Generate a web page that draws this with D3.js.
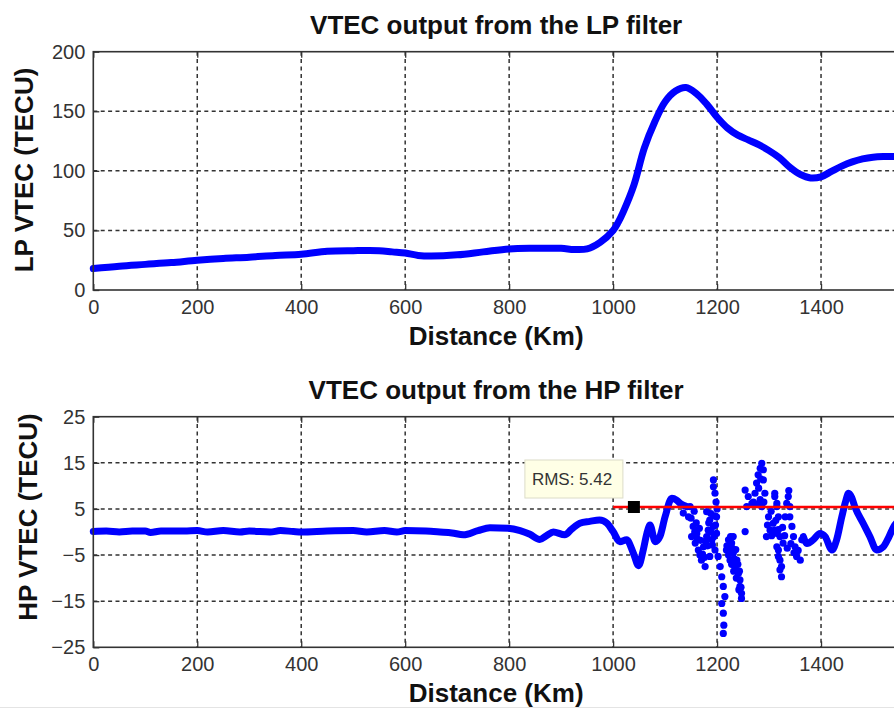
<!DOCTYPE html>
<html>
<head>
<meta charset="utf-8">
<script src="https://cdn.jsdelivr.net/npm/d3@7"></script>
<style>
  html, body { margin: 0; padding: 0; background: #fff; overflow: hidden; }
  svg { display: block; }
  text { font-family: "Liberation Sans", Arial, Helvetica, sans-serif; }
</style>
</head>
<body>
<svg id="chart" width="894" height="709"></svg>
<script>
// ---- Data ---------------------------------------------------------------
const xTicks = [0, 200, 400, 600, 800, 1000, 1200, 1400];
const lpYTicks = [0, 50, 100, 150, 200];
const hpYTicks = [-25, -15, -5, 5, 15, 25];

// Low-pass filtered VTEC along the profile (TECU)
const lpDistance = [0, 50, 100, 150, 200, 250, 300, 350, 400, 450, 500, 550, 575, 600, 625, 650, 700, 750, 800, 850,
  900, 925, 950, 975, 1000, 1010, 1020, 1040, 1060, 1080, 1100, 1120, 1140, 1160, 1180, 1200, 1220, 1240, 1260, 1280,
  1300, 1320, 1340, 1360, 1380, 1400, 1420, 1440, 1460, 1480, 1500, 1520, 1550];
const lpVtec = [18, 20, 21.5, 23, 25, 26.5, 27.5, 29, 30, 32.5, 33, 33, 32, 31, 29, 28.5, 29.5, 32, 34.5, 35,
  35, 34, 34.5, 40, 50, 57, 66, 88, 119, 141, 158, 167, 170, 165, 156, 145, 136, 130, 126, 122,
  117, 111, 103, 97, 94, 95, 99.5, 104, 107.5, 110, 111.5, 112, 112];

// High-pass filtered VTEC: continuous leading stretch
const hpLeadDistance = [0, 25, 50, 75, 100, 110, 130, 175, 200, 220, 250, 282, 300, 340, 360, 385, 400, 450, 500, 526,
  560, 584, 600, 640, 667, 690, 712, 740, 763, 798, 821, 840, 859, 872, 885, 907, 920, 936, 955, 974,
  988, 1000, 1013, 1026, 1039, 1049, 1058, 1065, 1071, 1081, 1090, 1100, 1113, 1122, 1129, 1135, 1142];
const hpLeadVtec = [0.1, 0.2, 0.0, 0.2, 0.2, -0.1, 0.2, 0.2, 0.3, 0.0, 0.3, 0.0, 0.2, 0.0, 0.3, 0.1, 0.0, 0.2, 0.3, 0.0,
  0.3, 0.0, 0.3, 0.2, 0.0, -0.2, -0.6, 0.3, 0.9, 0.8, 0.3, -0.5, -1.6, -0.8, 0.0, -0.6, 0.6, 1.9, 2.3, 2.6,
  1.9, 0.1, -2.1, -1.7, -4.6, -7.3, -3.9, -0.3, 1.5, -2.1, -1.0, 3.3, 7.3, 6.9, 6.2, 5.8, 5.5];

// High-pass filtered VTEC: scattered samples in the disturbed zone
const hpScatterDistance = [1135, 1145, 1148, 1154, 1151, 1158, 1164, 1170, 1177, 1161, 1174,
  1180, 1186, 1193, 1183, 1190, 1196, 1186, 1180, 1199, 1199, 1198, 1200, 1197,
  1150, 1156, 1160, 1166, 1168, 1172, 1176, 1182, 1184, 1188, 1191, 1194, 1195, 1188, 1178, 1167, 1162, 1157,
  1193, 1193, 1196,
  1202, 1206, 1209, 1212, 1215, 1209, 1212, 1213, 1212,
  1222, 1228, 1225, 1231, 1238, 1235, 1241, 1244, 1244, 1247, 1247, 1225, 1218, 1231,
  1219, 1222, 1226, 1229, 1233, 1236, 1240, 1243, 1246, 1228, 1232, 1237, 1242,
  1254,
  1254, 1260, 1267, 1257,
  1273, 1276, 1279, 1283, 1286, 1289, 1289, 1283, 1286, 1292,
  1270, 1280, 1284, 1278, 1290,
  1299, 1302, 1295, 1308, 1315, 1311, 1315, 1318, 1321, 1321, 1324, 1331, 1334, 1327,
  1311, 1315, 1318, 1311, 1321, 1315, 1318, 1324,
  1305, 1313, 1318, 1326, 1330, 1335, 1342, 1348, 1338, 1297, 1304,
  1337, 1340, 1340, 1344, 1347, 1350, 1353, 1360, 1363, 1356];
const hpScatterVtec = [4.1, 3.3, 5.5, 1.2, -1.0, -2.4, -3.9, -6.1, -7.5, -0.3, -3.2,
  4.4, 2.6, 1.2, 0.4, -1.7, -3.9, -5.3, -1.0, 3.3, -0.3, 6.5, 5.0, 1.5,
  3.0, 4.5, 2.0, 0.8, -1.8, -4.8, -5.5, -3.0, 2.0, 0.0, -2.8, -1.0, 3.5, 4.0, -2.0, -5.0, -1.5, 0.0,
  11.3, 9.8, 8.4,
  -5.3, -7.5, -9.7, -11.8, -14.0, -15.5, -17.6, -20.2, -22.0,
  -1.7, -2.4, -3.9, -4.6, -6.1, -7.5, -9.0, -10.4, -11.8, -13.3, -14.4, -6.1, -3.9, -1.0,
  -3.0, -5.0, -1.0, -3.5, -5.8, -3.8, -7.0, -8.5, -12.0, -7.0, -8.5, -10.0, -12.5,
  0.1,
  9.1, 7.7, 6.2, 5.5,
  8.4, 10.6, 12.4, 13.8, 14.9, 13.5, 11.3, 7.0, 5.5, 8.4,
  6.5, 9.5, 11.5, 6.0, 6.5,
  3.3, 0.4, -1.0, 1.9, -0.3, 7.7, 5.5, -3.9, -6.1, -8.2, -9.7, 3.3, 6.2, -2.4,
  8.4, 6.2, 3.3, 0.4, -1.0, -3.2, -5.3, -7.5,
  -0.8, 2.5, 0.5, 1.0, -0.8, -3.5, -2.5, -4.5, 9.0, 1.5, 4.5,
  7.7, 5.5, 3.3, 1.2, -1.0, -3.2, -5.3, -6.1, -1.7, -4.0];

// High-pass filtered VTEC: continuous trailing stretch
const hpTailDistance = [1366, 1373, 1385, 1398, 1408, 1421, 1430, 1440, 1447, 1453, 1459, 1465, 1481, 1494, 1507, 1520, 1530, 1540, 1550];
const hpTailVtec = [-1.0, -2.5, -1.7, -0.3, -1.0, -3.9, -1.7, 3.3, 6.5, 8.4, 7.5, 5.5, 1.9, -1.0, -3.9, -3.2, -1.2, 1.2, 2.5];

// RMS level of the disturbed stretch
const rmsValue = 5.42;
const rmsFrom = 1000;
const rmsTipDistance = 1040;

// ---- Drawing ------------------------------------------------------------
const svg = d3.select("#chart");
const BLUE = "#0000ff";
const x = d3.scaleLinear().domain([0, 1550]).range([93.3, 899]);
const xMid = (x.range()[0] + x.range()[1]) / 2;
const zip = (a, b) => a.map((d, i) => [d, b[i]]);

function panel(cfg) {
  const { top, bottom, yDomain, yTicks, title, ylabel, ylabelX, ylabelY } = cfg;
  const y = d3.scaleLinear().domain(yDomain).range([bottom, top]);
  const g = svg.append("g");

  // dotted grid
  const grid = g.append("g").attr("stroke", "#333").attr("stroke-width", 1.5).attr("stroke-dasharray", "4,3.4");
  grid.selectAll("line.v").data(xTicks.slice(1)).join("line")
    .attr("x1", d => x(d)).attr("x2", d => x(d)).attr("y1", top).attr("y2", bottom);
  grid.selectAll("line.h").data(yTicks.slice(1, -1)).join("line")
    .attr("x1", x.range()[0]).attr("x2", x.range()[1]).attr("y1", d => y(d)).attr("y2", d => y(d));

  const data = g.append("g");

  // frame and inward ticks
  const frame = g.append("g");
  const styleAxis = sel => {
    sel.select(".domain").remove();
    sel.selectAll(".tick line").attr("stroke", "#333").attr("stroke-width", 1.3);
    sel.selectAll(".tick text").attr("fill", "#333").attr("font-size", 20)
      .attr("font-family", '"Liberation Sans", Arial, sans-serif');
  };
  frame.append("g").attr("transform", `translate(0,${bottom})`)
    .call(d3.axisBottom(x).tickValues(xTicks).tickSize(-6).tickPadding(10).tickFormat(d3.format("d")))
    .call(styleAxis);
  frame.append("g").attr("transform", `translate(0,${top})`)
    .call(d3.axisTop(x).tickValues(xTicks).tickSize(-6).tickFormat(""))
    .call(styleAxis);
  frame.append("g").attr("transform", `translate(${x.range()[0]},0)`)
    .call(d3.axisLeft(y).tickValues(yTicks).tickSize(-6).tickPadding(8).tickFormat(d3.format("d")))
    .call(styleAxis);
  frame.append("rect")
    .attr("x", x.range()[0]).attr("y", top)
    .attr("width", x.range()[1] - x.range()[0]).attr("height", bottom - top)
    .attr("fill", "none").attr("stroke", "#333").attr("stroke-width", 1.6);

  // labels
  g.append("text").attr("x", xMid).attr("y", top - 18).attr("text-anchor", "middle")
    .attr("font-size", 26).attr("font-weight", "bold").attr("fill", "#111").text(title);
  g.append("text").attr("x", xMid).attr("y", bottom + 55).attr("text-anchor", "middle")
    .attr("font-size", 26).attr("font-weight", "bold").attr("fill", "#111").text("Distance (Km)");
  g.append("text").attr("transform", `translate(${ylabelX},${ylabelY}) rotate(-90)`).attr("text-anchor", "middle")
    .attr("font-size", 26).attr("font-weight", "bold").attr("fill", "#111").text(ylabel);

  return { y, data, frame };
}

// ---- LP panel ----
const lp = panel({
  top: 51.7, bottom: 290, yDomain: [0, 200], yTicks: lpYTicks,
  title: "VTEC output from the LP filter", ylabel: "LP VTEC (TECU)", ylabelX: 33, ylabelY: 170
});
const lpLine = d3.line().x(d => x(d[0])).y(d => lp.y(d[1])).curve(d3.curveCatmullRom.alpha(0.5));
lp.data.append("path").datum(zip(lpDistance, lpVtec))
  .attr("d", lpLine).attr("fill", "none").attr("stroke", BLUE)
  .attr("stroke-width", 7).attr("stroke-linejoin", "round").attr("stroke-linecap", "round");

// ---- HP panel ----
const hp = panel({
  top: 416.7, bottom: 647.3, yDomain: [-25, 25], yTicks: hpYTicks,
  title: "VTEC output from the HP filter", ylabel: "HP VTEC (TECU)", ylabelX: 37, ylabelY: 517
});
const hpLine = d3.line().x(d => x(d[0])).y(d => hp.y(d[1])).curve(d3.curveMonotoneX);
[zip(hpLeadDistance, hpLeadVtec), zip(hpTailDistance, hpTailVtec)].forEach(seg => {
  hp.data.append("path").datum(seg)
    .attr("d", hpLine).attr("fill", "none").attr("stroke", BLUE)
    .attr("stroke-width", 7).attr("stroke-linejoin", "round").attr("stroke-linecap", "round");
});
hp.data.append("g").attr("fill", BLUE)
  .selectAll("circle").data(zip(hpScatterDistance, hpScatterVtec)).join("circle")
  .attr("cx", d => x(d[0])).attr("cy", d => hp.y(d[1])).attr("r", 3.6);

// RMS level line and data tip
const ry = hp.y(rmsValue);
hp.data.append("line")
  .attr("x1", x(rmsFrom)).attr("x2", x.range()[1]).attr("y1", ry).attr("y2", ry)
  .attr("stroke", "#ff0000").attr("stroke-width", 2.6);
const mx = x(rmsTipDistance);
hp.data.append("rect").attr("x", mx - 6).attr("y", ry - 6).attr("width", 12).attr("height", 12).attr("fill", "#000");
const tip = hp.data.append("g").attr("transform", `translate(${mx - 109},${ry - 47})`);
tip.append("rect").attr("width", 98).attr("height", 38)
  .attr("fill", "#ffffe6").attr("stroke", "#dcdcc8").attr("stroke-width", 1);
tip.append("text").attr("x", 7).attr("y", 25).attr("font-size", 17).attr("fill", "#333")
  .text("RMS: " + rmsValue.toFixed(2));

// thin border along the bottom edge
svg.append("line").attr("x1", 0).attr("x2", 894).attr("y1", 707.5).attr("y2", 707.5)
  .attr("stroke", "#e4e4e4").attr("stroke-width", 1);
</script>
</body>
</html>
